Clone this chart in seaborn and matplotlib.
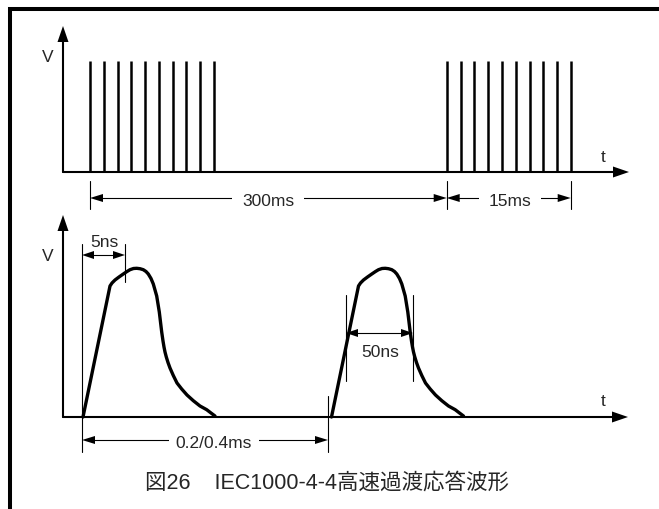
import numpy as np
import pandas as pd
import matplotlib
matplotlib.use("Agg")
import matplotlib.pyplot as plt
from matplotlib.patches import Polygon
import seaborn as sns

# ---- data -------------------------------------------------------------
# spike positions of the two bursts along the time axis (diagram units)
burst_a = [90, 104, 118, 131, 145, 159, 173, 186, 200, 214]
burst_b = [446.7, 460.7, 474, 488, 502, 516, 529.6, 543, 556.7, 570.7]
spike_height = 111

# shape of one fast transient: time from onset and amplitude
pulse_t = [0, 27, 29, 32, 36, 40.3, 44, 47, 50.5, 53.7, 57, 60.3, 63, 65.3,
           68, 70.3, 72, 73.7, 75, 76.3, 77.5, 78.7, 80, 81, 82, 83.3, 85, 87,
           90.3, 94, 98.7, 104, 110.3, 117, 123.7, 128, 132]
pulse_v = [0, 131, 134, 137, 140, 143, 145.5, 147.3, 148.5, 148.7, 148.3,
           147.3, 145.5, 143, 138.5, 133, 127, 121, 113, 105, 95, 85, 76, 70,
           65, 60, 54.5, 49, 41.5, 34, 28, 22, 16.3, 11, 7.3, 4, 1]
pulse_onsets = [83, 331.5]

dim_labels = ["300ms", "15ms", "5ns", "0.2/0.4ms", "50ns"]
caption = "図26    IEC1000-4-4高速過渡応答波形"

# ---- style ------------------------------------------------------------
sns.set_style("white")
plt.rcParams["font.family"] = ["Liberation Sans", "Noto Sans CJK JP", "DejaVu Sans"]

W, H = 659, 510
fig = plt.figure(figsize=(W / 100, H / 100), dpi=100)
ax = fig.add_axes([0, 0, 1, 1])

K = "black"
FS = 12.5


def head(tip, direction, length, width):
    tip = np.asarray(tip, float)
    d = np.asarray(direction, float)
    d /= np.linalg.norm(d)
    n = np.array([-d[1], d[0]])
    base = tip - d * length
    ax.add_patch(Polygon([tip, base + n * width / 2, base - n * width / 2],
                         closed=True, fc=K, ec="none", lw=0, zorder=5))


def axes_pair(x0, y0, y_tip, x_tip, vlab_y, tlab_y):
    ax.plot([x0, x0], [y0, y_tip + 14], color=K, lw=1.5)
    ax.plot([x0, x_tip - 14], [y0, y0], color=K, lw=1.5)
    head((x0, y_tip), (0, -1), 16, 11)
    head((x_tip, y0), (1, 0), 16, 11)
    ax.text(48, vlab_y, "V", fontsize=FS, ha="center", va="center")
    ax.text(603, tlab_y, "t", fontsize=FS, ha="center", va="center")


def dim(x0, x1, y, label, tx, pad=7, ha_len=13, ha_w=8):
    ax.plot([x0 + ha_len - 1, x1 - ha_len + 1], [y, y], color=K, lw=0.8)
    head((x0, y), (-1, 0), ha_len, ha_w)
    head((x1, y), (1, 0), ha_len, ha_w)
    if label is not None:
        ax.text(tx, y + 3, label, fontsize=FS, ha="center", va="center",
                bbox=dict(fc="white", ec="none", pad=pad), zorder=4)


def tick(x, y0, y1):
    ax.plot([x, x], [y0, y1], color=K, lw=0.8)


# ---- lower panel transients (seaborn) ---------------------------------
base_bot = 418
rows = []
for i, t0 in enumerate(pulse_onsets):
    for t, v in zip(pulse_t, pulse_v):
        rows.append({"pulse": i, "t": t0 + t, "y": base_bot - v})
df = pd.DataFrame(rows)
sns.lineplot(data=df, x="t", y="y", units="pulse", estimator=None, sort=False,
             color=K, lw=2.4, ax=ax, legend=False)
for ln in ax.lines:
    ln.set_solid_joinstyle("round")
    ln.set_solid_capstyle("round")

ax.set_xlim(0, W)
ax.set_ylim(H, 0)
ax.axis("off")

# frame
ax.plot([10, 10, 670], [520, 9.5, 9.5], color=K, lw=2.9,
        solid_capstyle="projecting", solid_joinstyle="miter")

# ---- upper panel: bursts ----------------------------------------------
base_top = 173
axes_pair(63, base_top, 27, 629, 58, 158)
ax.vlines(burst_a + burst_b, base_top, base_top - spike_height, color=K, lw=1.8)

tick(burst_a[0], 182, 210)
tick(burst_b[0], 182, 210)
tick(burst_b[-1], 182, 210)
dim(burst_a[0], burst_b[0], 199, dim_labels[0], 268)
dim(burst_b[0], burst_b[-1], 199, dim_labels[1], 510)

# ---- lower panel axes and markers -------------------------------------
axes_pair(63, base_bot, 216, 628, 257, 402)

# 5ns rise marker
tick(82, 245, 453)
tick(125, 245, 283)
dim(82, 125, 256, None, 0, ha_len=12, ha_w=8)
ax.text(104, 243, dim_labels[2], fontsize=FS, ha="center", va="center")

# repetition marker
tick(328, 397, 453)
dim(82, 328, 441, dim_labels[3], 214, pad=5)

# 50ns width marker
tick(346, 296, 382)
tick(413, 296, 382)
dim(346, 413, 334, None, 0, ha_len=12, ha_w=8)
ax.text(380, 353, dim_labels[4], fontsize=FS, ha="center", va="center")

# caption
ax.text(327, 483, caption, fontsize=15.5, ha="center", va="center")

fig.savefig("out.png", dpi=100, facecolor="white")
